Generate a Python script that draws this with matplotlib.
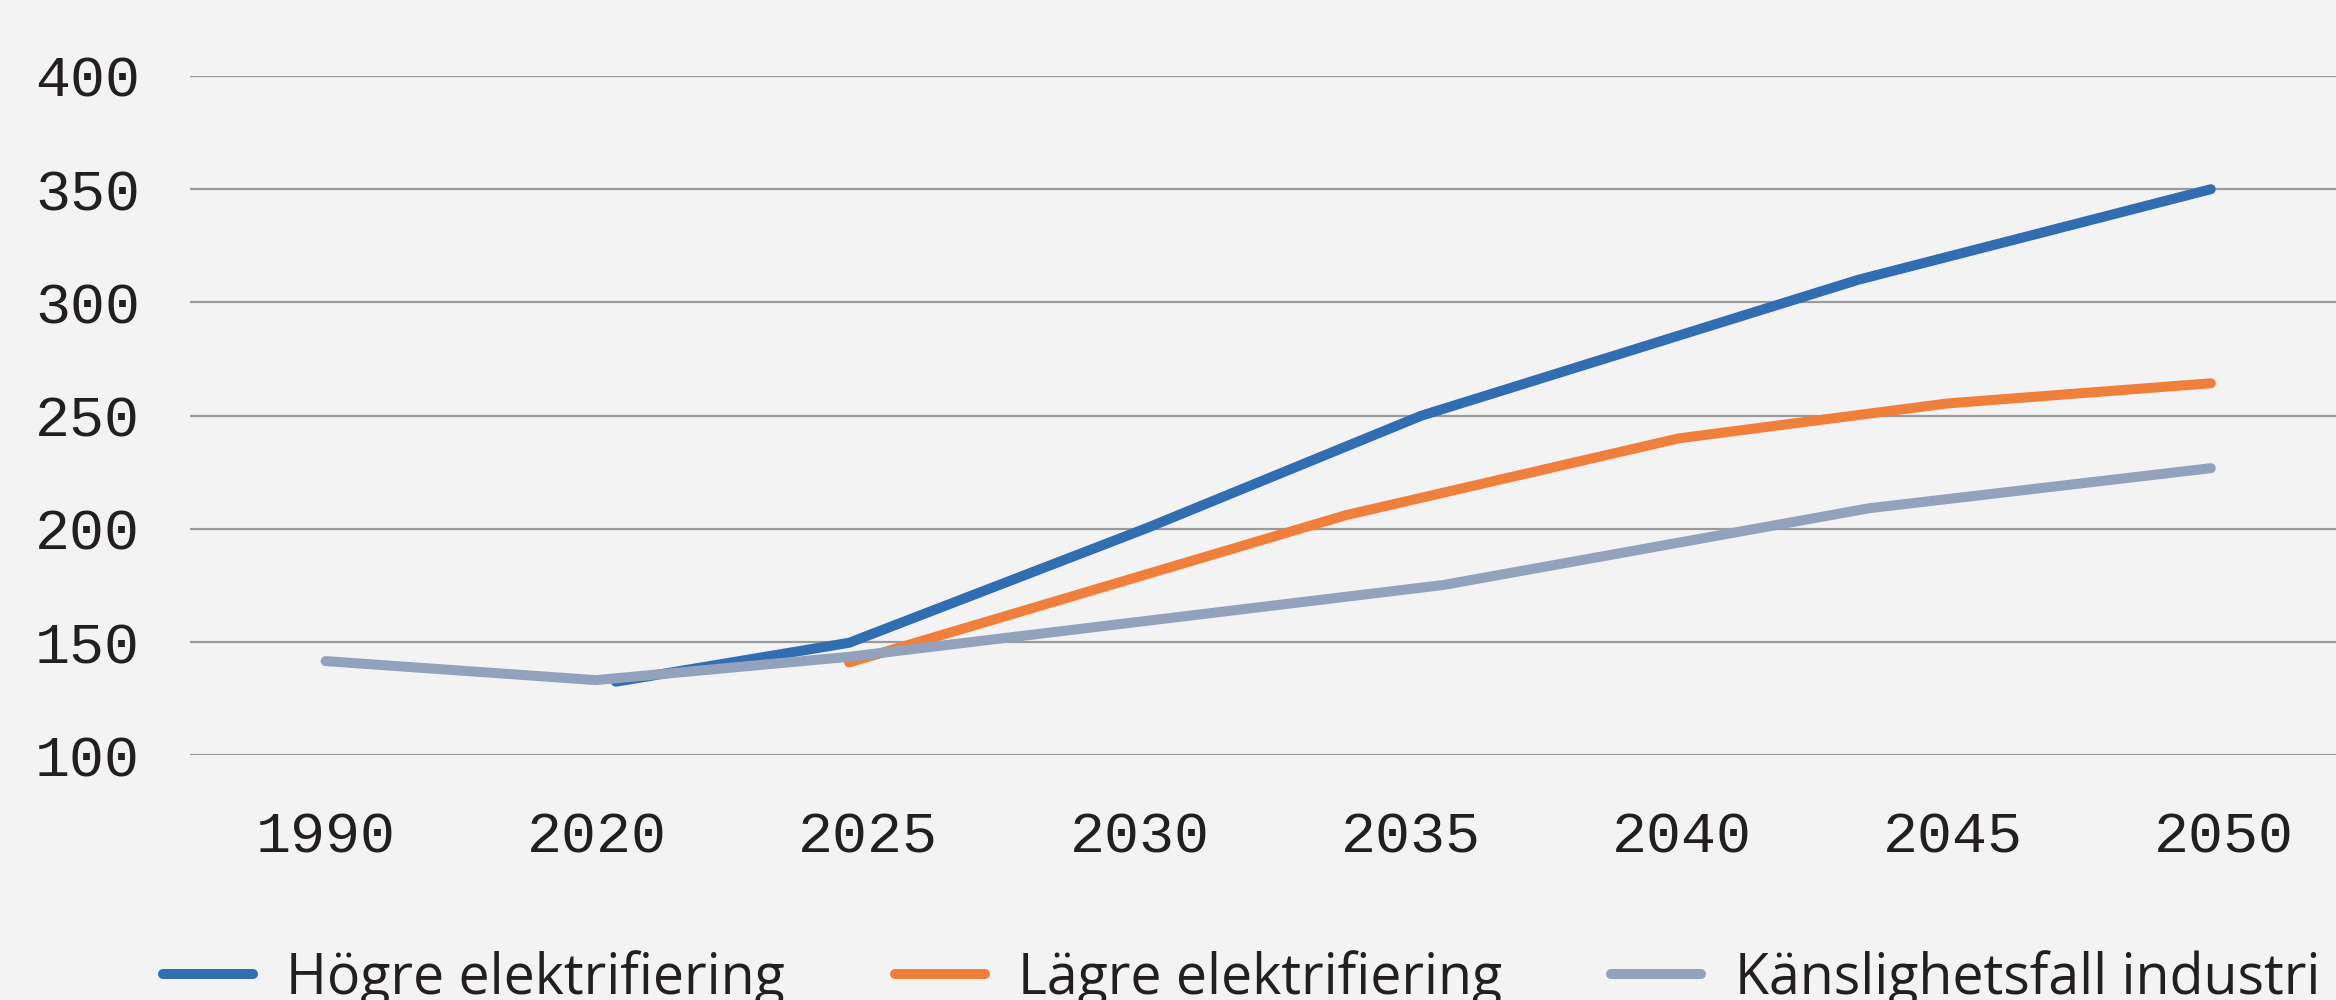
import matplotlib
matplotlib.use("Agg")
import matplotlib.pyplot as plt

# category labels along the x axis
categories = ["1990", "2020", "2025", "2030", "2035", "2040", "2045", "2050"]
y_ticks = [100, 150, 200, 250, 300, 350, 400]

# series (year, value)
hogre_years = [2020.35, 2024.65, 2030.1, 2035.2, 2043.25, 2049.75]
hogre_vals = [132.5, 149.7, 200.0, 250.0, 310.0, 350.0]

lagre_years = [2024.65, 2033.8, 2039.95, 2044.9, 2049.75]
lagre_vals = [141.0, 206.0, 240.0, 255.4, 264.3]

kansl_years = [1990, 2019.98, 2024.65, 2035.6, 2040.1, 2043.45, 2049.75]
kansl_vals = [141.6, 133.2, 143.5, 175.2, 194.6, 209.1, 226.8]

labels = ["Högre elektrifiering", "Lägre elektrifiering", "Känslighetsfall industri"]
colors = ["#306EB1", "#F07F3C", "#93A2BC"]
bg = "#F3F3F3"


def to_pos(year):
    # 1990 sits in the first category slot, 2020..2050 are spaced by 5 years
    if year < 2000:
        return 0.0
    return 1 + (year - 2020) / 5.0


fig = plt.figure(figsize=(23.36, 10), dpi=100, facecolor=bg)
ax = fig.add_axes([190 / 2336, 0.2447, 2170 / 2336, 0.6793])
ax.set_facecolor(bg)

series = [(hogre_years, hogre_vals), (lagre_years, lagre_vals), (kansl_years, kansl_vals)]
for (yrs, vals), lab, col in zip(series, labels, colors):
    ax.plot([to_pos(y) for y in yrs], vals, color=col, lw=7.2, label=lab,
            solid_capstyle="round", solid_joinstyle="round", clip_on=False)

ax.set_xlim(-0.5, len(categories) - 0.5)
ax.set_ylim(100, 400)
ax.set_xticks(range(len(categories)))
ax.set_xticklabels(categories)
ax.set_yticks(y_ticks)

ax.grid(True, axis="y", color="#9A9A9A", lw=1.6)
ax.set_axisbelow(True)
for s in ax.spines.values():
    s.set_visible(False)

ax.tick_params(axis="both", length=0, labelsize=42, labelcolor="#231F20")
ax.tick_params(axis="x", pad=40)
ax.tick_params(axis="y", pad=36)
for t in ax.get_xticklabels() + ax.get_yticklabels():
    t.set_family(["Liberation Mono", "DejaVu Sans Mono"])

leg = fig.legend(loc="center left", bbox_to_anchor=(113 / 2336, 0.021), ncol=3,
                 frameon=False, handlelength=1.62, handletextpad=0.6,
                 columnspacing=1.97, prop={"family": "Open Sans", "size": 40})
for h in leg.get_lines():
    h.set_linewidth(7.2)
    h.set_solid_capstyle("round")
for t in leg.get_texts():
    t.set_color("#231F20")

fig.savefig("out.png", dpi=100, facecolor=bg)
